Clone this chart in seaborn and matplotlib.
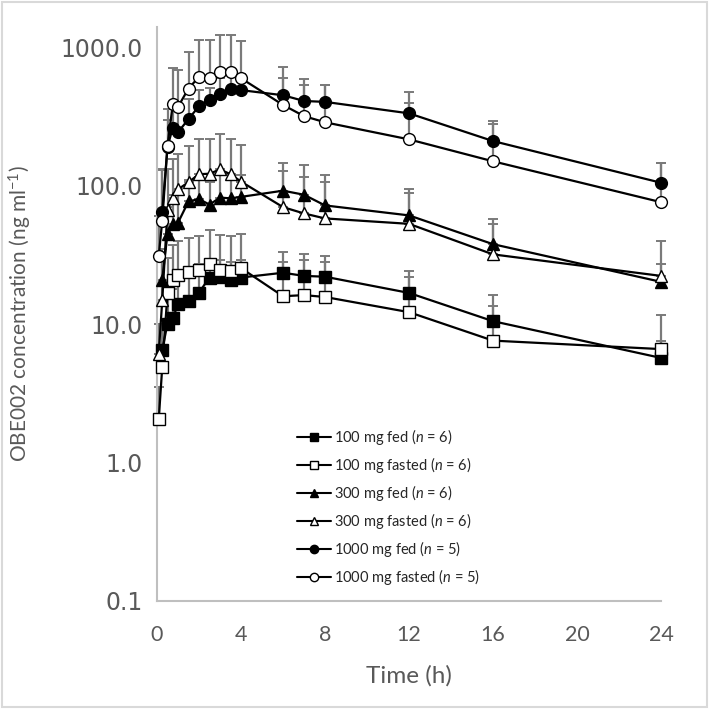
import matplotlib
matplotlib.use('Agg')
import matplotlib.pyplot as plt
import seaborn as sns
import numpy as np
from matplotlib.lines import Line2D
from matplotlib.patches import Rectangle
from matplotlib.ticker import NullLocator

# sampling times (h)
t_fed = [0.25, 0.5, 0.75, 1, 1.5, 2, 2.5, 3, 3.5, 4, 6, 7, 8, 12, 16, 24]
t_fasted = [0.083, 0.25, 0.5, 0.75, 1, 1.5, 2, 2.5, 3, 3.5, 4, 6, 7, 8, 12, 16, 24]

# mean concentrations (ng/ml) and top of the +SD bar
fed_100 = [6.5, 10.1, 11.0, 13.9, 14.7, 16.9, 21.7, 22.0, 20.8, 21.7, 23.5, 22.3, 22.0, 16.8, 10.5, 5.7]
fed_100_top = [9.5, 16, 18, 22, 24, 27, 29, 29, 28, 29, 33, 32, 31, 24, 16.2, 7.6]
fasted_100 = [2.05, 4.9, 16.7, 21.0, 22.6, 23.9, 24.5, 27.1, 24.8, 24.3, 25.4, 15.9, 16.2, 15.7, 12.2, 7.6, 6.6]
fasted_100_top = [3.5, 10, 30, 37, 40, 42, 43, 48, 44, 43, 45, 28, 29, 28, 22, 13.5, 11.6]

fed_300 = [21, 45, 53, 54, 77, 80, 73, 82, 81, 83, 92, 86, 72, 61, 37.8, 20.2]
fed_300_top = [35, 70, 85, 95, 110, 115, 106, 120, 120, 120, 146, 142, 119, 89, 57, 27]
fasted_300 = [6.1, 14.9, 67, 82, 94, 106, 121, 122, 131, 121, 107, 70, 63, 58, 53, 31.9, 22.3]
fasted_300_top = [10, 30, 131, 155, 168, 193, 216, 219, 238, 216, 196, 127, 115, 106, 94, 53, 40]

fed_1000 = [65, 190, 263, 243, 303, 375, 418, 463, 500, 490, 450, 409, 403, 333, 210, 105]
fed_1000_top = [131, 300, 380, 380, 420, 490, 510, 600, 640, 640, 604, 538, 538, 471, 294, 146]
fasted_1000 = [31, 56, 194, 386, 371, 503, 611, 604, 660, 660, 597, 383, 318, 287, 216, 150, 76]
fasted_1000_top = [60, 130, 360, 713, 682, 925, 1136, 1123, 1221, 1221, 1110, 721, 588, 538, 396, 281, 146]

labels = ['100 mg fed ($n$ = 6)', '100 mg fasted ($n$ = 6)',
          '300 mg fed ($n$ = 6)', '300 mg fasted ($n$ = 6)',
          '1000 mg fed ($n$ = 5)', '1000 mg fasted ($n$ = 5)']

series = [
    (t_fed, fed_100, fed_100_top, 's', 'black'),
    (t_fasted, fasted_100, fasted_100_top, 's', 'white'),
    (t_fed, fed_300, fed_300_top, '^', 'black'),
    (t_fasted, fasted_300, fasted_300_top, '^', 'white'),
    (t_fed, fed_1000, fed_1000_top, 'o', 'black'),
    (t_fasted, fasted_1000, fasted_1000_top, 'o', 'white'),
]
msize = {'s': 8, '^': 9, 'o': 8.5}

sns.set_style('white')
plt.rcParams['font.family'] = ['Lato', 'DejaVu Sans']
plt.rcParams['mathtext.fontset'] = 'custom'
plt.rcParams['mathtext.rm'] = 'Lato'
plt.rcParams['mathtext.it'] = 'Lato:italic'

txt = '#595959'
fig = plt.figure(figsize=(7.09, 7.09), dpi=100)
ax = fig.add_axes([157 / 709, 1 - 601 / 709, 504 / 709, 574 / 709])

# upper error bars only
for t, m, top, mk, fc in series:
    m = np.array(m)
    sd = np.array(top) - m
    ax.errorbar(t, m, yerr=[np.zeros_like(sd), sd], fmt='none', ecolor='#7a7a7a',
                elinewidth=1.6, capsize=3.5, capthick=1.4, zorder=1, clip_on=False)

for i, (t, m, top, mk, fc) in enumerate(series):
    sns.lineplot(x=t, y=m, ax=ax, color='black', linewidth=1.6, marker=mk,
                 markersize=msize[mk], markerfacecolor=fc, markeredgecolor='black',
                 markeredgewidth=1.0, clip_on=False, zorder=3 + i)

ax.set_yscale('log')
ax.set_ylim(0.1, 1400)
ax.set_xlim(0, 24)
ax.set_xticks([0, 4, 8, 12, 16, 20, 24])
ax.set_yticks([0.1, 1, 10, 100, 1000])
ax.set_yticklabels(['0.1', '1.0', '10.0', '100.0', '1000.0'], fontfamily='DejaVu Sans')
ax.yaxis.set_minor_locator(NullLocator())
ax.tick_params(axis='y', length=0, pad=10, labelsize=17, labelcolor=txt)
ax.tick_params(axis='x', length=0, pad=17.5, labelsize=15.5, labelcolor=txt)

for s in ['top', 'right']:
    ax.spines[s].set_visible(False)
for s in ['left', 'bottom']:
    ax.spines[s].set_color('#BFBFBF')
    ax.spines[s].set_linewidth(1.5)

ax.set_xlabel('Time (h)', fontsize=17.5, color=txt, labelpad=14)
ax.set_ylabel('OBE002 concentration (ng ml$^{-1}$)', fontsize=15, color=txt)
ax.yaxis.set_label_coords(-0.244, 0.5)

handles = [Line2D([], [], color='black', lw=1.5, marker=mk, markersize=6,
                  markerfacecolor=fc, markeredgecolor='black', markeredgewidth=1.0)
           for (_, _, _, mk, fc) in series]
fig.legend(handles, labels, loc='upper left', bbox_to_anchor=(297 / 709, 1 - 427 / 709),
           frameon=False, fontsize=10.5, handlelength=2.3, handletextpad=0.25,
           labelspacing=0.55, borderpad=0, borderaxespad=0, labelcolor='#262626')

fig.patches.append(Rectangle((0.003, 0.003), 0.994, 0.994, transform=fig.transFigure,
                             fill=False, edgecolor='#D9D9D9', lw=1.5))

fig.savefig('out.png', dpi=100)
